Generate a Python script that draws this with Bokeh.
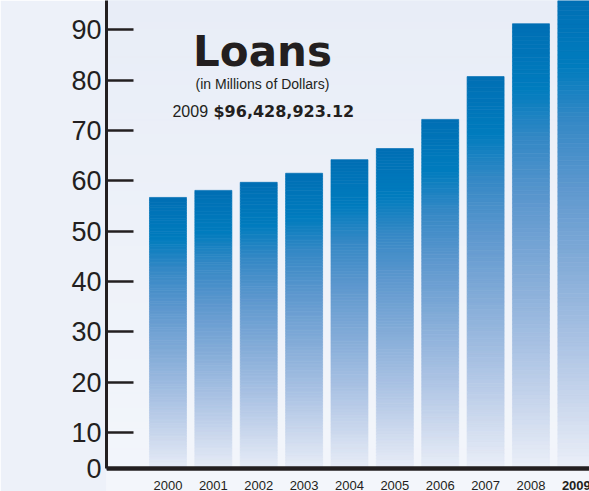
import numpy as np
from bokeh.plotting import figure
from bokeh.models import (Range1d, FixedTicker, CustomJSTickFormatter, Label, Span,
                          ColumnDataSource)
from bokeh.core.properties import field, value
from bokeh.embed import file_html
from bokeh.resources import INLINE

# ---------------- data ----------------
years = ["2000", "2001", "2002", "2003", "2004", "2005", "2006", "2007", "2008", "2009"]
loans = [56.7, 58.1, 59.7, 61.5, 64.2, 66.4, 72.2, 80.7, 91.2, 96.4]   # millions of dollars
y_tick_values = [0, 10, 20, 30, 40, 50, 60, 70, 80, 90]
y_tick_labels = ["0", "10", "20", "30", "40", "50", "60", "70", "80", "90"]
highlight_year = "2009"
title_text = "Loans"
subtitle_text = "(in Millions of Dollars)"
total_year = "2009"
total_amount = "$96,428,923.12"

# ---------------- styling ----------------
INK = "#231f20"
BAR_STOPS = [0.0, 0.14, 0.25, 0.40, 0.55, 0.70, 0.85, 1.0]   # fraction from bar top
BAR_RGB = [(0, 111, 180), (0, 124, 190), (52, 136, 197), (96, 153, 207),
           (132, 172, 216), (168, 193, 227), (206, 218, 238), (243, 245, 251)]
BG_TOP = (232, 237, 247)
BG_BOTTOM = (243, 246, 251)

x_lo, x_hi = -1.355, 9.29
y_lo, y_hi = -1.72, 95.82
y_floor = 2.85          # level at which the baseline (value 0 label) is drawn

p = figure(width=589, height=491, x_range=Range1d(x_lo, x_hi), y_range=Range1d(y_lo, y_hi),
           output_backend="svg", toolbar_location=None, x_axis_location=None,
           min_border_left=106, min_border_right=0, min_border_top=0, min_border_bottom=0)
p.outline_line_color = None
p.grid.visible = False
p.border_fill_color = "#edf1f9"
p.background_fill_color = "#eef1f9"


def hexc(rgb):
    return "#%02x%02x%02x" % tuple(int(round(c)) for c in rgb)


# background vertical gradient
nb = 70
edges = np.linspace(y_lo, y_hi, nb + 1)
bg_cols = []
for k in range(nb):
    t = (k + 0.5) / nb  # 0 bottom .. 1 top
    bg_cols.append(hexc([BG_BOTTOM[c] + (BG_TOP[c] - BG_BOTTOM[c]) * t for c in range(3)]))
p.quad(left=x_lo, right=x_hi, bottom=edges[:-1], top=edges[1:], fill_color=bg_cols,
       line_color=bg_cols, line_width=1)

# gradient bars built as stacked slices of each value (visible above the baseline)
ns = 110
xs, bots, tops, cols = [], [], [], []
for i, v in enumerate(loans):
    for k in range(ns):
        b = v * k / ns
        t = v * (k + 1) / ns
        if t <= y_floor:
            continue
        frac = 1 - (k + 0.5) / ns
        rgb = [np.interp(frac, BAR_STOPS, [c[j] for c in BAR_RGB]) for j in range(3)]
        xs.append(i); bots.append(max(b, y_floor)); tops.append(t); cols.append(hexc(rgb))
src = ColumnDataSource(dict(x=xs, bottom=bots, top=tops, color=cols))
p.vbar(x="x", width=0.815, bottom="bottom", top="top", source=src,
       fill_color="color", line_color="color", line_width=0.7)

# y axis
pos = [max(v, y_floor) for v in y_tick_values]
p.yaxis.bounds = (y_floor, y_hi)
p.yaxis.ticker = FixedTicker(ticks=pos)
p.yaxis.formatter = CustomJSTickFormatter(args=dict(pos=pos, labels=y_tick_labels), code="""
const i = pos.findIndex(q => Math.abs(q - tick) < 1e-6);
return i >= 0 ? labels[i] : "";
""")
p.yaxis.axis_line_color = INK
p.yaxis.axis_line_width = 3
p.yaxis.major_tick_in = 27
p.yaxis.major_tick_out = 0
p.yaxis.major_tick_line_color = INK
p.yaxis.major_tick_line_width = 2.5
p.yaxis.minor_tick_line_color = None
p.yaxis.major_label_standoff = 5
p.yaxis.major_label_text_font = "Liberation Sans"
p.yaxis.major_label_text_font_size = "27px"
p.yaxis.major_label_text_color = INK

# baseline (x axis line)
p.add_layout(Span(location=y_floor, dimension="width", line_color=INK, line_width=4.5))

# year labels under the baseline
ysrc = ColumnDataSource(dict(x=list(range(len(years))), y=[-0.45] * len(years), text=years,
                             style=["bold" if yr == highlight_year else "normal" for yr in years]))
p.text(x="x", y="y", text="text", source=ysrc, text_align="center", text_baseline="alphabetic",
       text_font=value("Liberation Sans"), text_font_size="13px", text_color=INK,
       text_font_style=field("style"))

# title block
p.add_layout(Label(x=2.083, y=85.6, text=title_text, text_align="center", text_baseline="alphabetic",
                   text_font="DejaVu Sans", text_font_style="bold", text_font_size="42px",
                   text_color=INK))
p.add_layout(Label(x=2.083, y=79.33, text=subtitle_text, text_align="center",
                   text_baseline="alphabetic", text_font="Liberation Sans",
                   text_font_size="14px", text_color=INK))
p.add_layout(Label(x=0.099, y=73.83, text=total_year, text_align="left", text_baseline="alphabetic",
                   text_font="Liberation Sans", text_font_size="16px", text_color=INK))
p.add_layout(Label(x=1.003, y=73.83, text=total_amount, text_align="left",
                   text_baseline="alphabetic", text_font="DejaVu Sans", text_font_style="bold",
                   text_font_size="16px", text_color=INK))

open("out.html", "w").write(file_html(p, INLINE))
